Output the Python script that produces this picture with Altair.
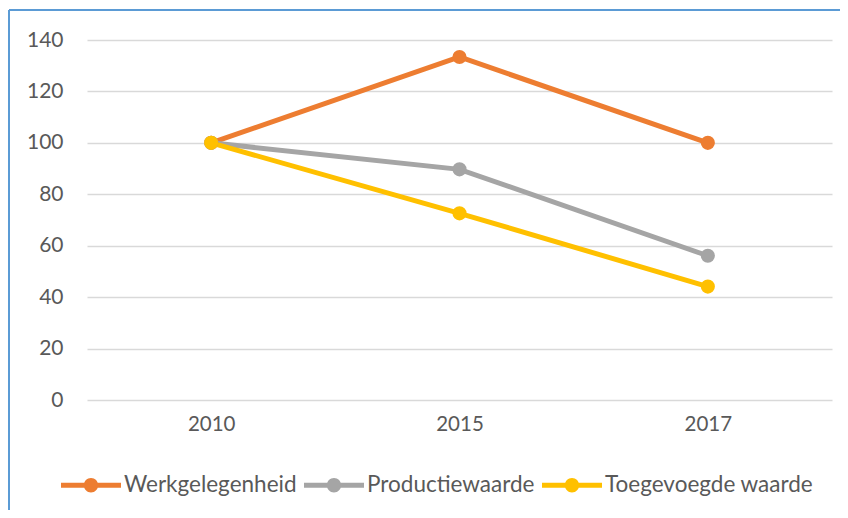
import altair as alt
import pandas as pd

years = ["2010", "2015", "2017"]
series = ["Werkgelegenheid", "Productiewaarde", "Toegevoegde waarde"]
werkgelegenheid = [100, 133.4, 100]
productiewaarde = [100, 89.7, 56.1]
toegevoegde = [100, 72.6, 44.1]
colors = ["#ED7D31", "#A5A5A5", "#FFC000"]
y_ticks = [0, 20, 40, 60, 80, 100, 120, 140]

rows = []
for name, vals in zip(series, [werkgelegenheid, productiewaarde, toegevoegde]):
    for yr, v in zip(years, vals):
        rows.append({"jaar": yr, "serie": name, "waarde": v})
df = pd.DataFrame(rows)

FONT = "Lato"
TXT = "#595959"

legend_path = ("M-1,-0.08 L1,-0.08 L1,0.08 L-1,0.08 Z "
               "M0,-0.24 A0.24,0.24 0 1,1 0,0.24 A0.24,0.24 0 1,1 0,-0.24 Z")

x = alt.X("jaar:N", sort=years, title=None,
          scale=alt.Scale(type="point", padding=0.5),
          axis=alt.Axis(labelAngle=0, domain=False, ticks=False, grid=False,
                        labelPadding=14, labelFontSize=20.5, labelFont=FONT, labelColor=TXT))
y = alt.Y("waarde:Q", title=None,
          scale=alt.Scale(domain=[0, 140], nice=False),
          axis=alt.Axis(values=y_ticks, domain=False, ticks=False, grid=True,
                        gridColor="#D9D9D9", gridWidth=1.5, labelPadding=24,
                        labelFontSize=21, labelFont=FONT, labelColor=TXT))
color = alt.Color("serie:N", sort=series, title=None,
                  scale=alt.Scale(domain=series, range=colors),
                  legend=alt.Legend(orient="none", direction="horizontal",
                                    legendX=-26, legendY=415,
                                    symbolType=legend_path, symbolSize=3600,
                                    symbolStrokeWidth=0, symbolOpacity=1,
                                    labelFont=FONT, labelFontSize=22.5, labelColor=TXT,
                                    labelLimit=0, labelOffset=3, columnPadding=7))

base = alt.Chart(df)
lines = base.mark_line(strokeWidth=5).encode(x=x, y=y, color=color)
points = base.mark_point(filled=True, size=200, opacity=1).encode(x=x, y=y, color=color)

frame_left = base.mark_rule(color="#5B9BD5", strokeWidth=2).encode(
    x=alt.value(-78), y=alt.value(-30), y2=alt.value(480))
frame_top = base.mark_rule(color="#5B9BD5", strokeWidth=2).encode(
    x=alt.value(-78), x2=alt.value(753), y=alt.value(-30))

chart = alt.layer(frame_left, frame_top, lines, points).properties(
    width=745, height=360,
    autosize=alt.AutoSizeParams(type="none"),
    padding={"left": 79, "top": 32, "right": 8, "bottom": 110},
).configure_view(stroke=None)

chart.save("out.html", embed_options={"renderer": "svg", "actions": False})
